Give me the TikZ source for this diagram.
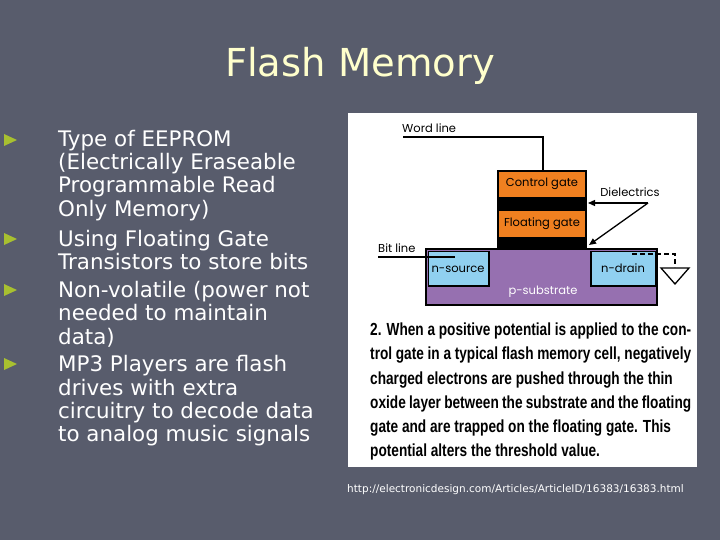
\documentclass[tikz,border=0pt]{standalone}
\usepackage{fontspec}
\setmainfont{DejaVu Sans}
\newfontfamily\capfont[FakeStretch=0.78]{Liberation Sans Bold}
\newfontfamily\labfont{Poppins}
\newfontfamily\urlfont{DejaVu Sans}
\usetikzlibrary{arrows.meta}
\definecolor{slide}{HTML}{585C6C}
\definecolor{titlecol}{HTML}{FFFFCC}
\definecolor{bulletcol}{HTML}{A8C030}
\definecolor{gateorange}{HTML}{F08020}
\definecolor{substrate}{HTML}{9670B0}
\definecolor{nregion}{HTML}{90D0F0}
\tikzset{
  bl/.style={anchor=base west,inner sep=0,text=white,font=\fontsize{21.4}{22}\selectfont},
  bul/.style={fill=bulletcol,draw=none},
  lab/.style={inner sep=0,font=\labfont\fontsize{11.5}{12}\selectfont},
  captxt/.style={anchor=base west,inner sep=0,font=\capfont\fontsize{17.5}{18}\selectfont},
  wire/.style={line width=1.6pt},
}
\begin{document}
\begin{tikzpicture}[x=1pt,y=-1pt]
  \fill[slide] (0,0) rectangle (720,540);
  \useasboundingbox (0,0) rectangle (720,540);
  % title
  \node (title) [inner sep=0,text=titlecol,font=\fontsize{38.5}{40}\selectfont] at (360,66) {Flash Memory};
  % bullets
  \foreach \y in {140,239,290,364}
    \fill[bul] (4,\y-6) -- (17,\y) -- (4,\y+6) -- cycle;
  \node (l1) [bl] at (58,147) {Type of EEPROM};
  \node (l2) [bl] at (58,170) {(Electrically Eraseable};
  \node (l3) [bl] at (58,193) {Programmable Read};
  \node (l4) [bl] at (58,217) {Only Memory)};
  \node (l5) [bl] at (58,246) {Using Floating Gate};
  \node (l6) [bl] at (58,269) {Transistors to store bits};
  \node (l7) [bl] at (58,297) {Non-volatile (power not};
  \node (l8) [bl] at (58,320) {needed to maintain};
  \node (l9) [bl] at (58,344) {data)};
  \node (l10) [bl] at (58,371) {MP3 Players are flash};
  \node (l11) [bl] at (58,395) {drives with extra};
  \node (l12) [bl] at (58,418) {circuitry to decode data};
  \node (l13) [bl] at (58,441) {to analog music signals};
  % figure panel
  \fill[white] (348,113) rectangle (697,467);
  % substrate
  \filldraw[fill=substrate,draw=black,line width=1.5pt] (426,249) rectangle (657,305);
  \node (psub) [lab,text=white] at (543,292) {p-substrate};
  \fill[black] (428,251) rectangle (490,287);
  \fill[nregion] (429,252) rectangle (488,285);
  \fill[black] (590,251) rectangle (656,287);
  \fill[nregion] (592,252) rectangle (655,285);
  \node (src) [lab] at (458,269) {n-source};
  \node (drn) [lab] at (623,268) {n-drain};
  % gate stack
  \fill[black] (497,170) rectangle (587,250);
  \fill[gateorange] (499,172) rectangle (585,197);
  \fill[gateorange] (499,211) rectangle (585,237);
  \node (cg) [lab] at (542,184) {Control gate};
  \node (fg) [lab] at (542,224) {Floating gate};
  % wires
  \coordinate (wl) at (403,137);
  \coordinate (wlc) at (543,170);
  \draw[wire] (wl) -| (wlc);
  \node (wltext) [lab,anchor=south west] at (402,133) {Word line};
  \coordinate (bl0) at (378,257);
  \coordinate (bl1) at (455,257);
  \draw[wire] (bl0) -- (bl1);
  \node (bltext) [lab,anchor=south west] at (378,253) {Bit line};
  % dielectrics
  \node (diel) [lab] at (630,192) {Dielectrics};
  \coordinate (d0) at (648,203);
  \coordinate (d1) at (588,203);
  \coordinate (d2) at (589,245);
  \draw[line width=1.3pt,-{Triangle[length=7pt,width=6pt]}] (d0) -- (d1);
  \draw[line width=1.3pt,-{Triangle[length=7pt,width=6pt]}] (d0) -- (d2);
  % ground
  \coordinate (g0) at (632,254);
  \coordinate (g1) at (675,254);
  \coordinate (g2) at (675,267);
  \draw[line width=1.3pt,dash pattern=on 5pt off 3pt] (g0) -- (g1) -- (g2);
  \draw[line width=1.3pt] (661,268) -- (689,268) -- (675,284) -- cycle;
  % caption
  \node (c1) [captxt] at (370,335) {\makebox[321pt][s]{2. When a positive potential is applied to the con-}};
  \node (c2) [captxt] at (370,359) {\makebox[321pt][s]{trol gate in a typical flash memory cell, negatively}};
  \node (c3) [captxt] at (370,384) {charged electrons are pushed through the thin};
  \node (c4) [captxt] at (370,408) {\makebox[321pt][s]{oxide layer between the substrate and the floating}};
  \node (c5) [captxt] at (370,432) {gate and are trapped on the floating gate. This};
  \node (c6) [captxt] at (370,456) {potential alters the threshold value.};
  \node (url) [anchor=base west,inner sep=0,text=white,font=\urlfont\fontsize{10.5}{11}\selectfont] at (347,492) {http://electronicdesign.com/Articles/ArticleID/16383/16383.html};
\end{tikzpicture}
\end{document}
